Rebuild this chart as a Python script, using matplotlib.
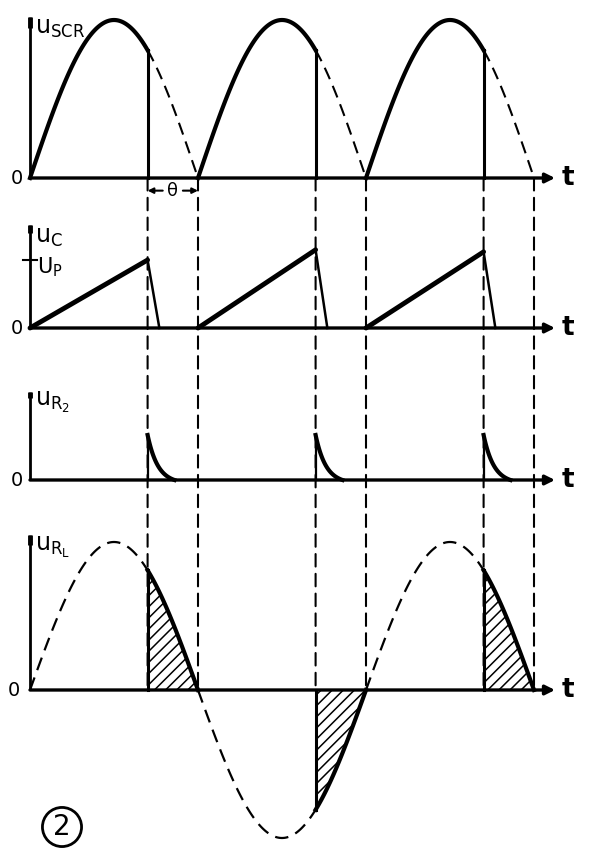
"""Waveforms of an SCR relaxation circuit: u_SCR, u_C, u_R2 and u_RL."""

import matplotlib

matplotlib.use("Agg")
import matplotlib.pyplot as plt
import numpy as np
from matplotlib.patches import ConnectionPatch

plt.rcParams["font.family"] = ["DejaVu Sans"]
plt.rcParams["mathtext.fontset"] = "dejavusans"
plt.rcParams["hatch.linewidth"] = 1.1

# time in half-periods of the mains voltage
HALF_CYCLE_STARTS = [0.0, 1.0, 2.0]
TURN_OFF = 0.70          # SCR stops conducting here in every half cycle
THETA = 1.0 - TURN_OFF    # marked interval theta
UC_PEAKS = [1.00, 1.15, 1.12]   # capacitor voltage at firing (U_P = 1)
UC_FALL = 0.07            # discharge time of C
UR2_PEAKS = [1.0, 1.0, 1.0]     # pulse height on R2
UR2_DECAY = 0.16          # pulse length on R2
T_AXIS_END = 3.125

PANEL_LABELS = [r"$\mathrm{u}_{\mathrm{SCR}}$", r"$\mathrm{u}_{\mathrm{C}}$",
                r"$\mathrm{u}_{\mathrm{R}_2}$", r"$\mathrm{u}_{\mathrm{R}_\mathrm{L}}$"]

W, H = 594, 850
X0, XS = 30, 168  # pixel of t=0, pixels per half period

fig = plt.figure(figsize=(W / 100, H / 100), dpi=100)


def panel(top_px, bot_px, base_px, scale_px):
    ax = fig.add_axes([0, 1 - bot_px / H, 1, (bot_px - top_px) / H])
    ax.set_xlim(-X0 / XS, (W - X0) / XS)
    ax.set_ylim(-(bot_px - base_px) / scale_px, (base_px - top_px) / scale_px)
    ax.axis("off")
    return ax


def axes_lines(ax, v_top, label, label_v, zero_dt=0.04):
    ax.annotate("", xy=(T_AXIS_END, 0), xytext=(0, 0),
                arrowprops=dict(arrowstyle="-|>", lw=2.4, color="black",
                                mutation_scale=14, shrinkA=0, shrinkB=0))
    ax.plot([0, 0], [0, v_top], color="black", lw=2.0, solid_capstyle="butt")
    ax.plot([0, 0], [v_top * 0.93, v_top], color="black", lw=3.5,
            solid_capstyle="butt")
    ax.text(T_AXIS_END + 0.04, 0, "t", fontsize=19, ha="left", va="center",
            fontweight="bold")
    ax.text(-zero_dt, 0, "0", fontsize=14, ha="right", va="center")
    ax.text(0.03, label_v, label, fontsize=17, ha="left", va="center")


ax1 = panel(0, 200, 178, 158)
ax2 = panel(200, 345, 328, 68)
ax3 = panel(380, 500, 480, 45)
ax4 = panel(520, 850, 690, 148)

# ---- u_SCR
axes_lines(ax1, 1.02, PANEL_LABELS[0], 0.95)
for t0 in HALF_CYCLE_STARTS:
    ton = np.linspace(t0, t0 + TURN_OFF, 80)
    ax1.plot(ton, np.abs(np.sin(np.pi * ton)), color="black", lw=3.0)
    vcut = abs(np.sin(np.pi * (t0 + TURN_OFF)))
    ax1.plot([t0 + TURN_OFF] * 2, [0, vcut], color="black", lw=2.2)
    toff = np.linspace(t0 + TURN_OFF, t0 + 1.0, 40)
    ax1.plot(toff, np.abs(np.sin(np.pi * toff)), color="black", lw=1.5,
             ls=(0, (6, 3.5)))
ax1.annotate("", xy=(TURN_OFF, -0.08), xytext=(TURN_OFF + THETA * 0.3, -0.08),
             arrowprops=dict(arrowstyle="-|>", lw=1.5, color="black",
                             mutation_scale=8, shrinkA=0, shrinkB=0))
ax1.annotate("", xy=(1.0, -0.08), xytext=(1.0 - THETA * 0.3, -0.08),
             arrowprops=dict(arrowstyle="-|>", lw=1.5, color="black",
                             mutation_scale=8, shrinkA=0, shrinkB=0))
ax1.text(TURN_OFF + THETA / 2, -0.08, "θ", fontsize=13, ha="center",
         va="center")

# ---- u_C
axes_lines(ax2, 1.51, PANEL_LABELS[1], 1.34)
ax2.plot([-0.04, 0.04], [1, 1], color="black", lw=1.5)
ax2.text(0.04, 0.9, r"$\mathrm{U_P}$", fontsize=15, ha="left", va="center")
for t0, peak in zip(HALF_CYCLE_STARTS, UC_PEAKS):
    tf = t0 + TURN_OFF
    ax2.plot([t0, tf], [0, peak], color="black", lw=3.5,
             solid_capstyle="round")
    ax2.plot([tf, tf + UC_FALL], [peak, 0], color="black", lw=1.8)

# ---- u_R2
axes_lines(ax3, 1.96, PANEL_LABELS[2], 1.73)
for t0, peak in zip(HALF_CYCLE_STARTS, UR2_PEAKS):
    tf = t0 + TURN_OFF
    tau = np.linspace(0, UR2_DECAY, 40)
    k = 2.6 / UR2_DECAY
    decay = (np.exp(-k * tau) - np.exp(-k * UR2_DECAY)) / (1 - np.exp(-k * UR2_DECAY))
    ax3.plot([tf, tf], [0, peak], color="black", lw=1.6)
    ax3.plot(tf + tau, peak * decay, color="black", lw=3.0)

# ---- u_RL
axes_lines(ax4, 1.05, PANEL_LABELS[3], 0.96, zero_dt=0.06)
for t0 in HALF_CYCLE_STARTS:
    tdash = np.linspace(t0, t0 + TURN_OFF, 80)
    ax4.plot(tdash, np.sin(np.pi * tdash), color="black", lw=1.6,
             ls=(0, (6, 3.5)))
    ts = np.linspace(t0 + TURN_OFF, t0 + 1.0, 40)
    vs = np.sin(np.pi * ts)
    ax4.fill_between(ts, 0, vs, facecolor="none", edgecolor="black",
                     hatch="///", linewidth=0)
    ax4.plot(ts, vs, color="black", lw=3.0)
    ax4.plot([ts[0], ts[0]], [0, vs[0]], color="black", lw=2.2)

# ---- dashed projection lines between first and last trace
for t0 in HALF_CYCLE_STARTS:
    for tv in (t0 + TURN_OFF, t0 + 1.0):
        con = ConnectionPatch(xyA=(tv, 0), coordsA=ax1.transData,
                              xyB=(tv, 0), coordsB=ax4.transData,
                              color="black", lw=1.5, ls=(0, (6, 3.5)))
        fig.add_artist(con)

fig.text(62 / W, 1 - 827 / H, "2", fontsize=20, ha="center", va="center",
         bbox=dict(boxstyle="circle,pad=0.2", fc="white", ec="black", lw=2))

fig.savefig("out.png", dpi=100)
